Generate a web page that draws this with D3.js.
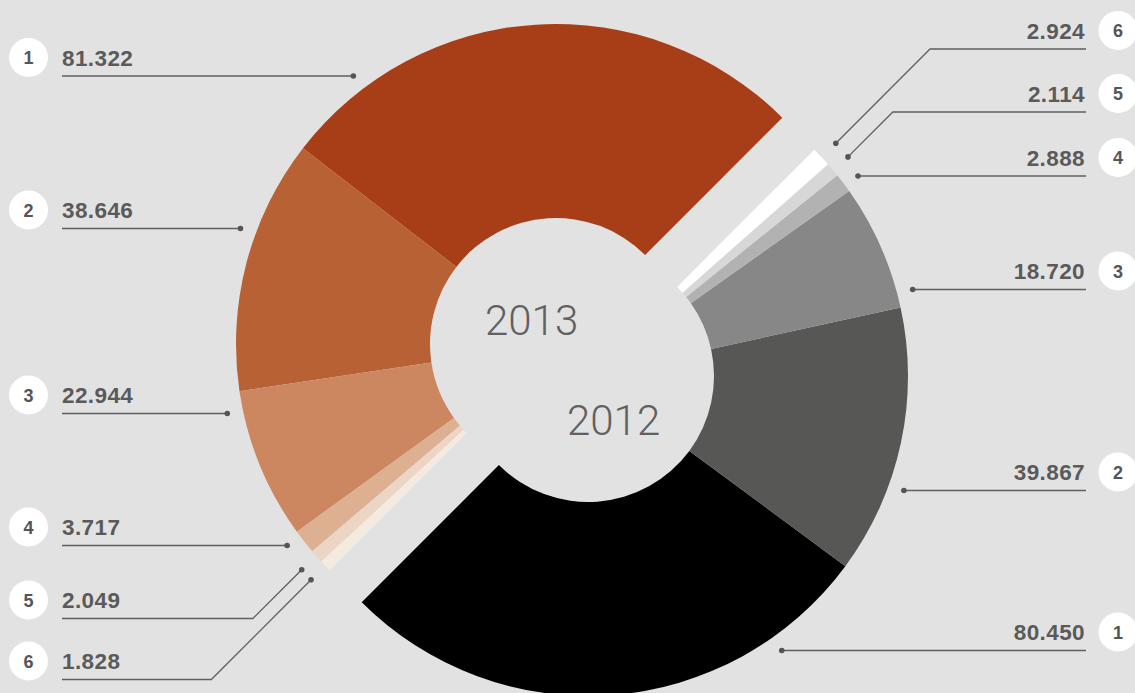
<!DOCTYPE html>
<html>
<head>
<meta charset="utf-8">
<script src="https://cdn.jsdelivr.net/npm/d3@7"></script>
<style>
html,body{margin:0;padding:0;background:#e2e2e2;}
svg{display:block;}
</style>
</head>
<body>
<svg id="chart" width="1135" height="693"></svg>
<script>
// ---- data ----
const years = ["2013", "2012"];
const ranks = [1, 2, 3, 4, 5, 6];
const values2013 = [81.322, 38.646, 22.944, 3.717, 2.049, 1.828];
const values2012 = [80.450, 39.867, 18.720, 2.888, 2.114, 2.924];
const labels2013 = ["81.322", "38.646", "22.944", "3.717", "2.049", "1.828"];
const labels2012 = ["80.450", "39.867", "18.720", "2.888", "2.114", "2.924"];
const colors2013 = ["#a83e17", "#b86134", "#cc8660", "#ddb092", "#edd5c5", "#f5eae0"];
const colors2012 = ["#000000", "#575755", "#878787", "#b2b2b2", "#d7d7d7", "#ffffff"];

// ---- layout ----
const W = 1135, H = 693;
const cx = 572, cy = 360, off = 16;
const rIn = 126, rOut = 320, rDot = 336;
const deg = Math.PI / 180;

const svg = d3.select("#chart");
svg.append("rect").attr("width", W).attr("height", H).attr("fill", "#e2e2e2");

const arc = d3.arc().innerRadius(rIn).outerRadius(rOut);

const c13 = [cx - off, cy - off];
const c12 = [cx + off, cy + off];

const pie13 = d3.pie().sort(null).startAngle(45 * deg).endAngle(-135 * deg)(values2013);
const pie12 = d3.pie().sort(null).startAngle(225 * deg).endAngle(45 * deg)(values2012);

const g13 = svg.append("g").attr("transform", `translate(${c13[0]},${c13[1]})`);
g13.selectAll("path").data(pie13).join("path")
  .attr("d", arc).attr("fill", (d, i) => colors2013[i]);

const g12 = svg.append("g").attr("transform", `translate(${c12[0]},${c12[1]})`);
g12.selectAll("path").data(pie12).join("path")
  .attr("d", arc).attr("fill", (d, i) => colors2012[i]);

// center year labels
svg.append("text").attr("x", 485).attr("y", 335).text(years[0])
  .attr("font-family", "Roboto, 'Liberation Sans', sans-serif").attr("font-weight", 300)
  .attr("font-size", 42).attr("fill", "#606060");
svg.append("text").attr("x", 567).attr("y", 435).text(years[1])
  .attr("font-family", "Roboto, 'Liberation Sans', sans-serif").attr("font-weight", 300)
  .attr("font-size", 42).attr("fill", "#606060");

// ---- labels ----
const rows13 = [57.5, 210, 395, 527, 600, 661];
const rows12 = [632, 472, 271, 157.5, 93.5, 30.5];
const leaderType = ["h", "h", "h", "h", "d", "d"];

function drawLabels(pie, center, rows, texts, side) {
  const gl = svg.append("g");
  pie.forEach((d, i) => {
    const rowY = rows[i];
    const lineY = rowY + 18.5;
    let dot, pts;
    const sgn = side === "left" ? -1 : 1;
    const textEdge = side === "left" ? 62 : 1086;
    if (leaderType[i] === "h") {
      const dy = lineY - center[1];
      const dx = Math.sqrt(Math.max(0, rDot * rDot - dy * dy));
      dot = [center[0] + sgn * dx, lineY];
      pts = [[textEdge, lineY], dot];
    } else {
      const a = (d.startAngle + d.endAngle) / 2;
      const r = rDot + 4;
      dot = [center[0] + r * Math.sin(a), center[1] - r * Math.cos(a)];
      const elbowX = dot[0] + sgn * Math.abs(lineY - dot[1]);
      pts = [[textEdge, lineY], [elbowX, lineY], dot];
    }
    gl.append("path").attr("d", d3.line()(pts))
      .attr("fill", "none").attr("stroke", "#5f5f5f").attr("stroke-width", 1.3);
    gl.append("circle").attr("cx", dot[0]).attr("cy", dot[1]).attr("r", 2.8).attr("fill", "#555");
    // value text
    gl.append("text")
      .attr("x", side === "left" ? 62 : 1085).attr("y", rowY + 8)
      .attr("text-anchor", side === "left" ? "start" : "end")
      .attr("font-family", "'Liberation Sans', Arial, sans-serif").attr("font-weight", "bold")
      .attr("font-size", 22.5).attr("letter-spacing", 0.4).attr("fill", "#5a5a5a")
      .text(texts[i]);
    // rank bubble
    const bx = side === "left" ? 28.5 : 1118;
    gl.append("circle").attr("cx", bx).attr("cy", rowY).attr("r", 19.5).attr("fill", "#ffffff");
    gl.append("text").attr("x", bx).attr("y", rowY + 6.5).attr("text-anchor", "middle")
      .attr("font-family", "'Liberation Sans', Arial, sans-serif").attr("font-weight", "bold")
      .attr("font-size", 18).attr("fill", "#555").text(ranks[i]);
  });
}
drawLabels(pie13, c13, rows13, labels2013, "left");
drawLabels(pie12, c12, rows12, labels2012, "right");
</script>
</body>
</html>
